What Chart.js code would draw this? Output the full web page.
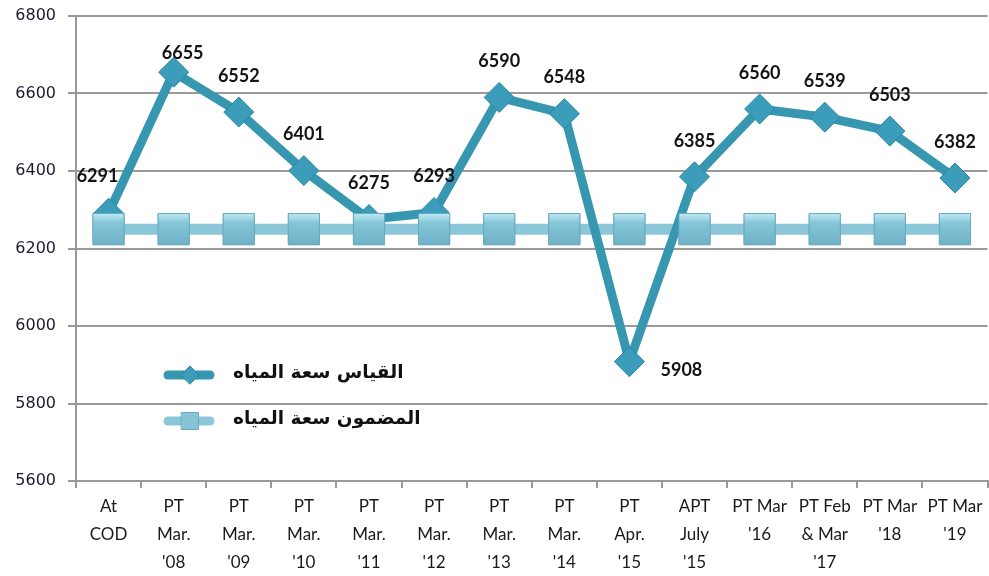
<!DOCTYPE html>
<html>
<head>
<meta charset="utf-8">
<script src="https://cdn.jsdelivr.net/npm/chart.js@4.4.1/dist/chart.umd.min.js"></script>
<style>
  html, body { margin: 0; padding: 0; background: #fff; }
  #wrap { width: 989px; height: 576px; position: relative; }
</style>
</head>
<body>
<div id="wrap"><canvas id="chart_waterCapacity"></canvas></div>
<script>
// categories (multi-line tick labels)
var categories = [
  ['At', 'COD'],
  ['PT', 'Mar.', "'08"],
  ['PT', 'Mar.', "'09"],
  ['PT', 'Mar.', "'10"],
  ['PT', 'Mar.', "'11"],
  ['PT', 'Mar.', "'12"],
  ['PT', 'Mar.', "'13"],
  ['PT', 'Mar.', "'14"],
  ['PT', 'Apr.', "'15"],
  ['APT', 'July', "'15"],
  ['PT Mar', "'16"],
  ['PT Feb', '& Mar', "'17"],
  ['PT Mar', "'18"],
  ['PT Mar', "'19"]
];
var measuredLabel = 'القياس سعة المياه';
var measuredValues = [6291, 6655, 6552, 6401, 6275, 6293, 6590, 6548, 5908, 6385, 6560, 6539, 6503, 6382];
var guaranteedLabel = 'المضمون سعة المياه';
var guaranteedValues = [6250, 6250, 6250, 6250, 6250, 6250, 6250, 6250, 6250, 6250, 6250, 6250, 6250, 6250];
var yMin = 5600, yMax = 6800, yStep = 200;

// where each value label sits relative to its point (px)
var labelShift = measuredValues.map(function () { return [0, -36]; });
labelShift[0] = [-11, -37];
labelShift[1] = [9, -19];
labelShift[8] = [52, 9];

var darkTeal = '#3796b0';
var lightTeal = '#8cc7d9';
var gridGray = '#9a9a9a';

var chart_waterCapacity = new Chart(document.getElementById('chart_waterCapacity'), {
    type: 'line',
    data: {
        labels: categories,
        datasets: [
            {
                label: guaranteedLabel,
                data: guaranteedValues,
                borderColor: lightTeal,
                borderWidth: 11,
                pointStyle: 'rect',
                pointRadius: 22,
                pointBackgroundColor: function (c) {
                    var p = c.element;
                    if (!p || p.y === undefined) return '#82c1d4';
                    var g = c.chart.ctx.createLinearGradient(0, p.y - 16, 0, p.y + 16);
                    g.addColorStop(0, '#c4ecf6');
                    g.addColorStop(0.3, '#86c6d9');
                    g.addColorStop(1, '#6eb0c6');
                    return g;
                },
                pointBorderColor: '#6aaac0',
                pointBorderWidth: 1,
                order: 2
            },
            {
                label: measuredLabel,
                data: measuredValues,
                borderColor: darkTeal,
                borderWidth: 9,
                pointStyle: 'rectRot',
                pointRadius: 15,
                pointBackgroundColor: '#3b9dba',
                pointBorderColor: '#2c86a1',
                pointBorderWidth: 1,
                order: 1
            }
        ]
    },
    options: {
        animation: false,
        responsive: true,
        maintainAspectRatio: false,
        layout: { autoPadding: false, padding: { top: 16, right: 1.5, left: 0, bottom: 0 } },
        plugins: {
            legend: { display: false },
            tooltip: { enabled: false }
        },
        scales: {
            x: {
                type: 'category',
                offset: true,
                grid: { offset: true, drawOnChartArea: false, color: gridGray, lineWidth: 2, tickLength: 7 },
                border: { color: gridGray, width: 2 },
                ticks: {
                    autoSkip: false,
                    maxRotation: 0,
                    padding: 5,
                    color: '#1a1a1a',
                    font: { family: 'Lato', size: 17, lineHeight: 28 / 17 }
                },
                afterFit: function (scale) {
                    scale.height = 95;
                    scale.paddingLeft = 0;
                    scale.paddingRight = 0;
                }
            },
            y: {
                type: 'linear',
                min: yMin,
                max: yMax,
                ticks: {
                    stepSize: yStep,
                    padding: 12,
                    color: '#1a1a33',
                    font: { family: 'DejaVu Sans', size: 16 },
                    callback: function (value) { return String(value); }
                },
                grid: { color: gridGray, lineWidth: 2, tickLength: 8 },
                border: { color: gridGray, width: 2 },
                afterFit: function (scale) {
                    scale.width = 76;
                    scale.paddingTop = 0;
                    scale.paddingBottom = 0;
                }
            }
        }
    },
    plugins: [{
        id: 'whiteBack',
        beforeDraw: function (chart) {
            var ctx = chart.ctx;
            ctx.save();
            ctx.fillStyle = 'white';
            ctx.fillRect(0, 0, chart.width, chart.height);
            ctx.restore();
        }
    }, {
        id: 'squaresOnTop',
        afterDatasetsDraw: function (chart) {
            // light squares sit over the dark line, as in the original
            var ctx = chart.ctx;
            var meta = chart.getDatasetMeta(0);
            ctx.save();
            meta.data.forEach(function (pt) { pt.draw(ctx, chart.chartArea); });
            ctx.restore();
        }
    }, {
        id: 'valueLabels',
        afterDatasetsDraw: function (chart) {
            var ctx = chart.ctx;
            var meta = chart.getDatasetMeta(1);
            ctx.save();
            ctx.font = 'bold 18px Lato';
            ctx.fillStyle = '#141414';
            ctx.textAlign = 'center';
            ctx.textBaseline = 'middle';
            meta.data.forEach(function (pt, i) {
                ctx.fillText(String(measuredValues[i]), pt.x + labelShift[i][0], pt.y + labelShift[i][1]);
            });
            ctx.restore();
        }
    }, {
        id: 'insideLegend',
        afterDraw: function (chart) {
            var ctx = chart.ctx;
            var rows = [
                { ds: chart.data.datasets[1], y: 375 },
                { ds: chart.data.datasets[0], y: 421 }
            ];
            ctx.save();
            rows.forEach(function (r) {
                var ds = r.ds;
                ctx.strokeStyle = ds.borderColor;
                ctx.lineWidth = 9;
                ctx.lineCap = 'round';
                ctx.beginPath();
                ctx.moveTo(168, r.y);
                ctx.lineTo(210, r.y);
                ctx.stroke();
                var isDiamond = ds.pointStyle === 'rectRot';
                ctx.fillStyle = isDiamond ? ds.pointBackgroundColor : '#86c4d6';
                ctx.strokeStyle = ds.pointBorderColor;
                ctx.lineWidth = 1;
                Chart.helpers.drawPoint(ctx, { pointStyle: ds.pointStyle, radius: isDiamond ? 9 : 12, borderWidth: 1 }, 190, r.y);
                ctx.font = 'bold 18.5px "DejaVu Sans"';
                ctx.fillStyle = '#111';
                ctx.textAlign = 'left';
                ctx.textBaseline = 'middle';
                ctx.fillText(ds.label, 233, r.y - 2);
            });
            ctx.restore();
        }
    }]
});
</script>
</body>
</html>
